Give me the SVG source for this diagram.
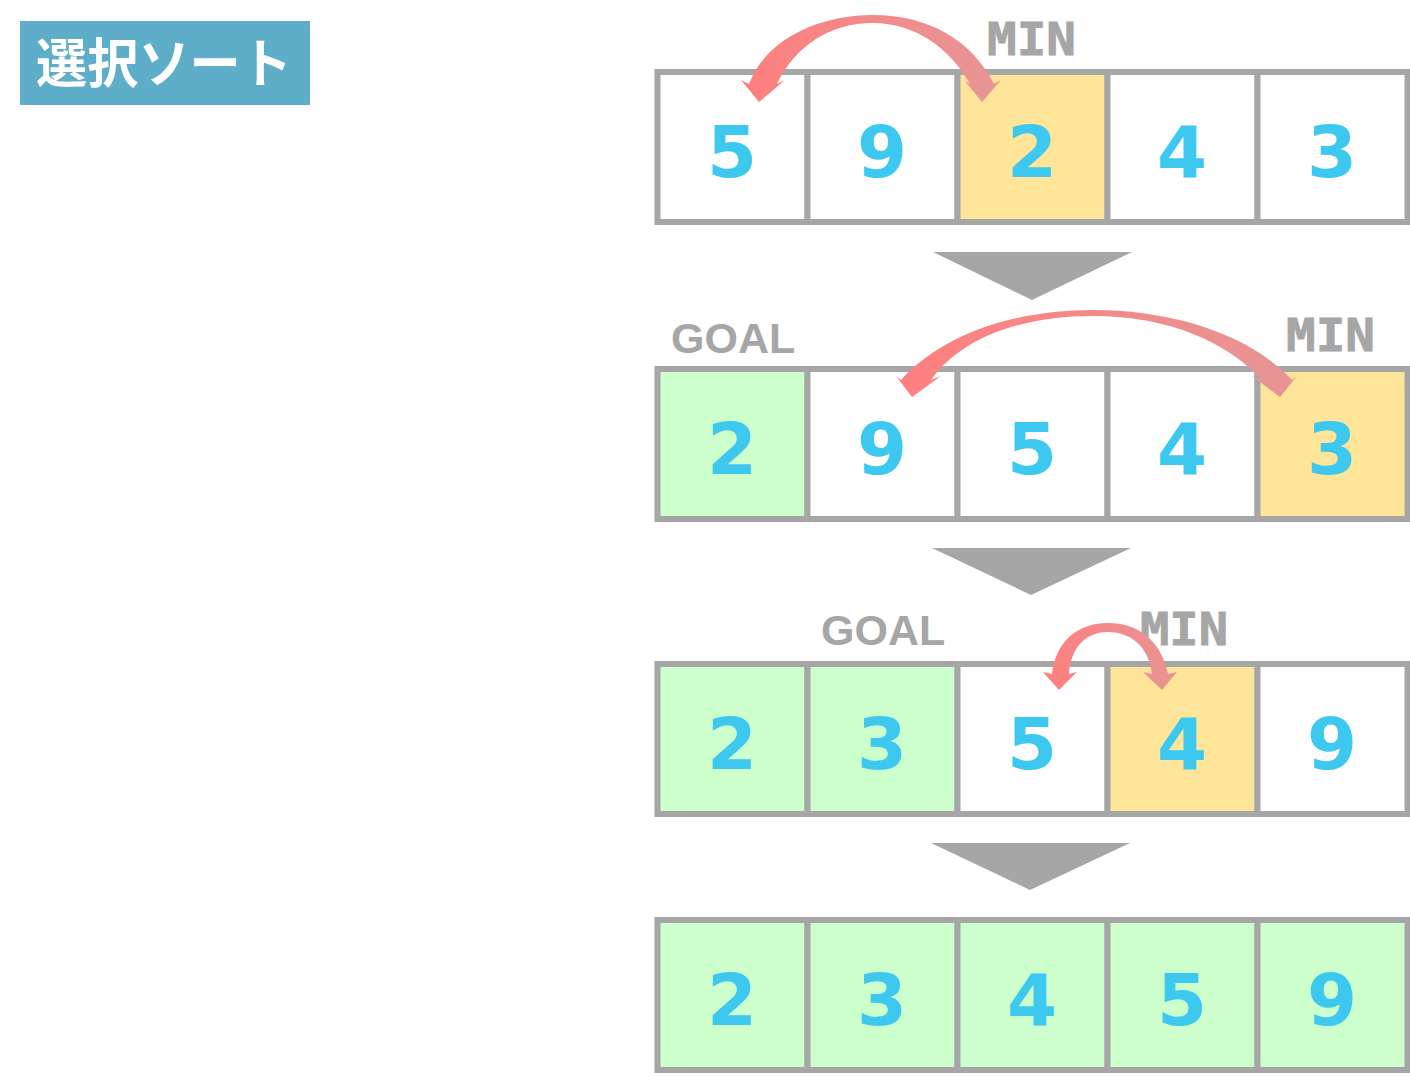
<svg xmlns="http://www.w3.org/2000/svg" width="1410" height="1077" viewBox="0 0 1410 1077">
<defs>
<style>
.cell{stroke:#a6a6a6;stroke-width:6}
.w{fill:#ffffff}
.y{fill:#ffe599}
.g{fill:#ccffcc}
.num{font-family:"DejaVu Sans",Verdana,sans-serif;font-weight:bold;font-size:72px;fill:#3dc8ef;text-anchor:middle}
.min{font-family:"DejaVu Sans Mono","Liberation Mono",monospace;font-weight:bold;font-size:45px;fill:#a6a6a6;stroke:#a6a6a6;stroke-width:0.8}
.goal{font-family:"Liberation Sans",Arial,sans-serif;font-weight:bold;font-size:43px;fill:#a6a6a6}
.tri{fill:#a6a6a6}
.swap{fill:url(#grad)}
</style>
<linearGradient id="grad" x1="0" y1="0" x2="1" y2="0">
<stop offset="0" stop-color="#ff7f7f"/>
<stop offset="1" stop-color="#e79595"/>
</linearGradient>
</defs>
<rect width="1410" height="1077" fill="#ffffff"/>
<g id="title">
<rect x="20" y="21" width="290" height="84" fill="#5eadc9"/>
<text x="36" y="83" font-family="'Noto Sans CJK JP',sans-serif" font-weight="bold" font-size="53" fill="#ffffff" textLength="256" lengthAdjust="spacingAndGlyphs">選択ソート</text>
</g>
<g id="row1">
<rect class="cell w" x="657.5" y="72" width="150" height="150"/>
<rect class="cell w" x="807.5" y="72" width="150" height="150"/>
<rect class="cell y" x="957.5" y="72" width="150" height="150"/>
<rect class="cell w" x="1107.5" y="72" width="150" height="150"/>
<rect class="cell w" x="1257.5" y="72" width="150" height="150"/>
<text class="num" x="732" y="177">5</text>
<text class="num" x="882" y="177">9</text>
<text class="num" x="1032" y="177">2</text>
<text class="num" x="1182" y="177">4</text>
<text class="num" x="1332" y="177">3</text>
<text class="min" x="987" y="55" textLength="89" lengthAdjust="spacingAndGlyphs">MIN</text>
</g>
<g id="row2">
<rect class="cell g" x="657.5" y="369" width="150" height="150"/>
<rect class="cell w" x="807.5" y="369" width="150" height="150"/>
<rect class="cell w" x="957.5" y="369" width="150" height="150"/>
<rect class="cell w" x="1107.5" y="369" width="150" height="150"/>
<rect class="cell y" x="1257.5" y="369" width="150" height="150"/>
<text class="num" x="732" y="474">2</text>
<text class="num" x="882" y="474">9</text>
<text class="num" x="1032" y="474">5</text>
<text class="num" x="1182" y="474">4</text>
<text class="num" x="1332" y="474">3</text>
<text class="goal" x="671" y="353">GOAL</text>
<text class="min" x="1286" y="351" textLength="89" lengthAdjust="spacingAndGlyphs">MIN</text>
</g>
<g id="row3">
<rect class="cell g" x="657.5" y="664" width="150" height="150"/>
<rect class="cell g" x="807.5" y="664" width="150" height="150"/>
<rect class="cell w" x="957.5" y="664" width="150" height="150"/>
<rect class="cell y" x="1107.5" y="664" width="150" height="150"/>
<rect class="cell w" x="1257.5" y="664" width="150" height="150"/>
<text class="num" x="732" y="769">2</text>
<text class="num" x="882" y="769">3</text>
<text class="num" x="1032" y="769">5</text>
<text class="num" x="1182" y="769">4</text>
<text class="num" x="1332" y="769">9</text>
<text class="goal" x="821" y="645">GOAL</text>
<text class="min" x="1140" y="645" textLength="88" lengthAdjust="spacingAndGlyphs">MIN</text>
</g>
<g id="row4">
<rect class="cell g" x="657.5" y="920" width="150" height="150"/>
<rect class="cell g" x="807.5" y="920" width="150" height="150"/>
<rect class="cell g" x="957.5" y="920" width="150" height="150"/>
<rect class="cell g" x="1107.5" y="920" width="150" height="150"/>
<rect class="cell g" x="1257.5" y="920" width="150" height="150"/>
<text class="num" x="732" y="1025">2</text>
<text class="num" x="882" y="1025">3</text>
<text class="num" x="1032" y="1025">4</text>
<text class="num" x="1182" y="1025">5</text>
<text class="num" x="1332" y="1025">9</text>
</g>
<g id="connectors">
<polygon class="tri" points="933,252 1132,252 1032,300"/>
<polygon class="tri" points="932,548 1131,548 1031,595"/>
<polygon class="tri" points="931,843 1130,843 1030,890"/>
<path class="swap" d="M 749,84 C 765,40 818,15 873,15 C 928,15 972,40 994,84 L 1001,80 L 982,102 L 964,80 L 970,84 C 950,48 915,23 873,23 C 830,23 795,46 777,84 L 785,80 L 759,102 L 741,80 Z"/>
<path class="swap" d="M 901,380 C 945,332 1018,310 1093,310 C 1172,310 1250,334 1292,380 L 1297,376 L 1280,397 L 1252,376 L 1262,380 C 1228,343 1170,316 1093,316 C 1022,316 962,337 931,380 L 941,376 L 912,397 L 896,376 Z"/>
<path class="swap" d="M 1052,674 C 1056,640 1079,623 1108,623 C 1138,623 1161,640 1168,674 L 1177,672 L 1162,690 L 1143,672 L 1152,674 C 1149,648 1132,632 1108,632 C 1085,632 1071,648 1069,674 L 1077,672 L 1059,690 L 1043,672 Z"/>
</g>
</svg>
